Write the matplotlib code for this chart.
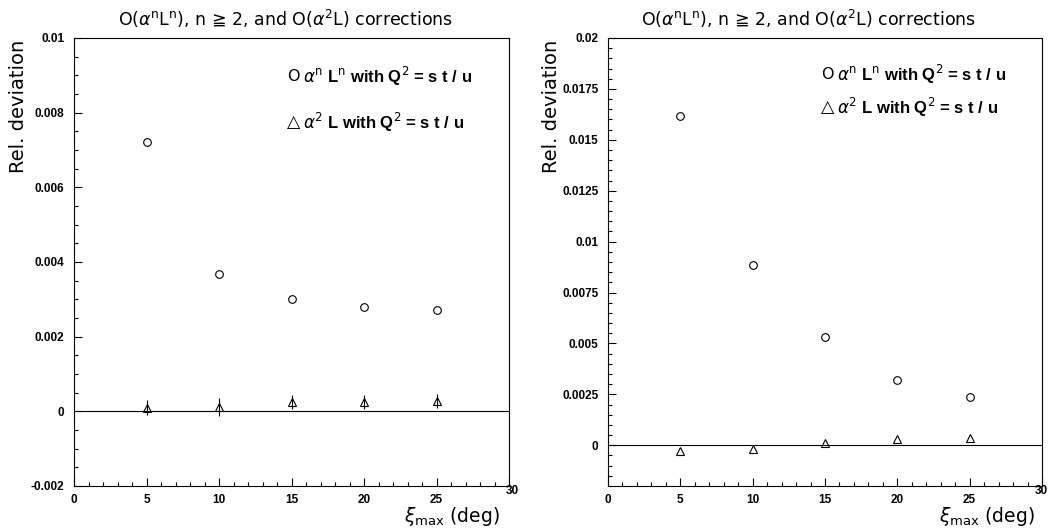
import matplotlib
matplotlib.use('Agg')
import matplotlib.pyplot as plt
from matplotlib.ticker import MultipleLocator, FixedLocator
from matplotlib.transforms import ScaledTranslation

# 数据
XI_MAX = [5, 10, 15, 20, 25]

# 左图
LEFT_CIRCLE = [0.00721, 0.00368, 0.00301, 0.00280, 0.00271]
LEFT_TRI = [0.00010, 0.00012, 0.00025, 0.00025, 0.00028]
LEFT_TRI_ERR = [0.00021, 0.00024, 0.00019, 0.00019, 0.00019]
LEFT_YTICKS = [-0.002, 0, 0.002, 0.004, 0.006, 0.008, 0.01]
LEFT_YLABELS = ['-0.002', '0', '0.002', '0.004', '0.006', '0.008', '0.01']

# 右图
RIGHT_CIRCLE = [0.01616, 0.00887, 0.00531, 0.00322, 0.00237]
RIGHT_TRI = [-0.00029, -0.00020, 0.00011, 0.00029, 0.00036]
RIGHT_YTICKS = [0, 0.0025, 0.005, 0.0075, 0.01, 0.0125, 0.015, 0.0175, 0.02]
RIGHT_YLABELS = ['0', '0.0025', '0.005', '0.0075', '0.01', '0.0125', '0.015', '0.0175', '0.02']

XTICKS = [0, 5, 10, 15, 20, 25, 30]
XLABELS = ['0', '5', '10', '15', '20', '25', '30']

TITLE = r'O($\alpha^{\rm n}$L$^{\rm n}$), n ≧ 2, and O($\alpha^{2}$L) corrections'
LEG1 = r'$\alpha^{\rm n}$ L$^{\rm n}$ with Q$^{\rm 2}$ = s t / u'
LEG2 = r'$\alpha^{\rm 2}$ L with Q$^{\rm 2}$ = s t / u'

W, H = 1049, 529
plt.rcParams['font.family'] = ['DejaVu Sans']
plt.rcParams['mathtext.fontset'] = 'dejavusans'
fig = plt.figure(figsize=(W / 100, H / 100), dpi=100)


def setup_axes(ax, ylim, yticks, ylabels, yminor, dx30):
    ax.set_xlim(0, 30)
    ax.set_ylim(*ylim)
    ax.xaxis.set_major_locator(FixedLocator(XTICKS))
    ax.set_xticklabels(XLABELS)
    ax.xaxis.set_minor_locator(MultipleLocator(1))
    ax.yaxis.set_major_locator(FixedLocator(yticks))
    ax.set_yticklabels(ylabels)
    ax.yaxis.set_minor_locator(MultipleLocator(yminor))
    ax.tick_params(which='both', direction='in', top=False, right=False,
                   width=0.8, colors='black')
    ax.tick_params(which='major', length=6)
    ax.tick_params(which='minor', length=3)
    ax.tick_params(axis='y', pad=7)
    ax.tick_params(axis='x', pad=6)
    for lbl in ax.get_xticklabels() + ax.get_yticklabels():
        lbl.set_fontfamily('Liberation Sans')
        lbl.set_fontweight('bold')
        lbl.set_fontsize(8.5)
    for sp in ax.spines.values():
        sp.set_linewidth(0.8)
    ax.axhline(0, color='black', lw=0.8)
    # 30 的标签偏上
    lbl30 = ax.get_xticklabels()[-1]
    lbl30.set_transform(lbl30.get_transform() + ScaledTranslation(dx30 / 100, 9 / 100, fig.dpi_scale_trans))


def legend_text(ax, y1, y2):
    ax.text(14.7, y1, 'O', fontsize=11.5, va='center', ha='left')
    ax.text(15.8, y1, LEG1, fontsize=12, fontweight='bold', family='Liberation Sans',
            va='center', ha='left')
    ax.text(14.7, y2, '△', fontsize=12.5, va='center', ha='left')
    ax.text(15.8, y2, LEG2, fontsize=12, fontweight='bold', family='Liberation Sans',
            va='center', ha='left')


# 左图
ax1 = fig.add_axes([74 / W, 43 / H, 435 / W, 448 / H])
setup_axes(ax1, (-0.002, 0.01), LEFT_YTICKS, LEFT_YLABELS, 0.0005, 3)
ax1.plot(XI_MAX, LEFT_CIRCLE, 'o', mfc='none', mec='black', ms=5.5, mew=0.8)
ax1.errorbar(XI_MAX, LEFT_TRI, yerr=LEFT_TRI_ERR, fmt='^', mfc='none', mec='black',
             ecolor='black', elinewidth=0.8, ms=5.5, mew=0.8, capsize=0)
legend_text(ax1, 0.00898, 0.00775)

# 右图
ax2 = fig.add_axes([608 / W, 43 / H, 434 / W, 448 / H])
setup_axes(ax2, (-0.002, 0.02), RIGHT_YTICKS, RIGHT_YLABELS, 0.0005, -1)
ax2.plot(XI_MAX, RIGHT_CIRCLE, 'o', mfc='none', mec='black', ms=5.5, mew=0.8)
ax2.plot(XI_MAX, RIGHT_TRI, '^', mfc='none', mec='black', ms=5.5, mew=0.8)
legend_text(ax2, 0.0182, 0.0166)

# 标题和坐标轴标签
for cx in (285, 808):
    fig.text(cx / W, 1 - 19 / H, TITLE, fontsize=12.5, ha='center', va='center')
for lx in (19, 552):
    fig.text(lx / W, 1 - 40 / H, 'Rel. deviation', fontsize=14, rotation=90,
             ha='center', va='top')
for rx in (500, 1035):
    fig.text(rx / W, 1 / H, r'$\xi_{\rm max}$ (deg)', fontsize=13.5, ha='right', va='bottom')

fig.savefig('out.png', dpi=100)
